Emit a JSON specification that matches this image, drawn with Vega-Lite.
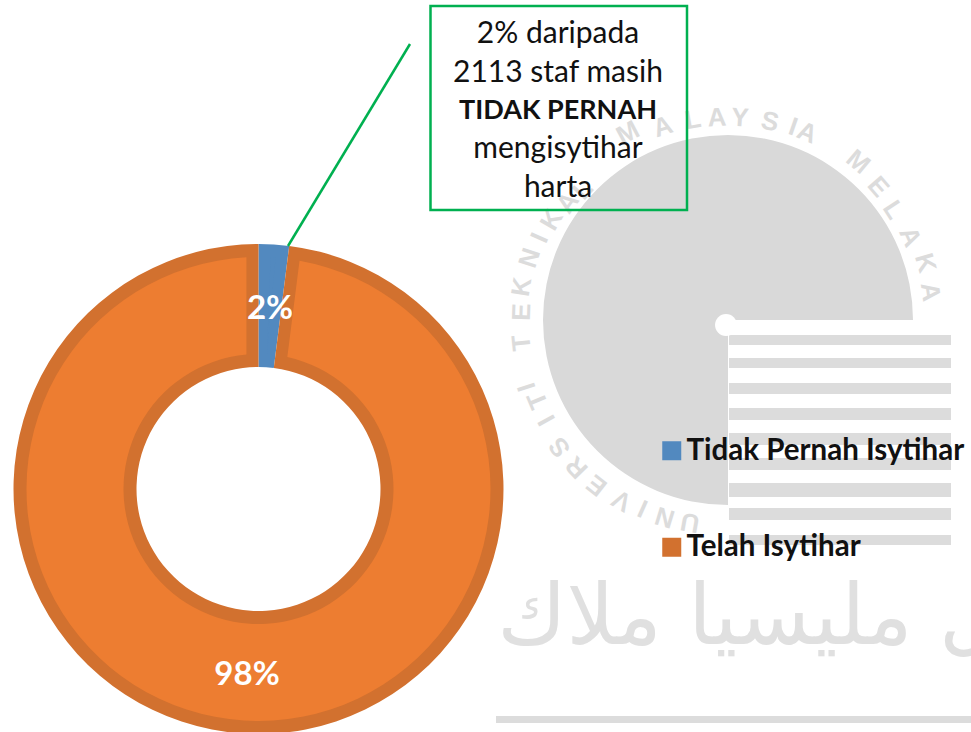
{"$schema":"https://vega.github.io/schema/vega-lite/v6.json","width":971,"height":732,"padding":0,"autosize":{"type":"none"},"background":"white","config":{"view":{"stroke":null},"font":"Lato"},"encoding":{"x":{"type":"quantitative","scale":{"domain":[0,971],"nice":false,"zero":false},"axis":null},"y":{"type":"quantitative","scale":{"domain":[732,0],"nice":false,"zero":false},"axis":null}},"layer":[
{"data":{"values":[{"y0":335,"y1":345},{"y0":358,"y1":368},{"y0":383,"y1":394},{"y0":408,"y1":420},{"y0":433,"y1":445},{"y0":458,"y1":470},{"y0":483,"y1":497},{"y0":508,"y1":520},{"y0":535,"y1":545}]},"mark":{"type":"rect","color":"#dcdcdc"},"encoding":{"x":{"datum":729},"x2":{"datum":951},"y":{"field":"y0","type":"quantitative"},"y2":{"field":"y1"}}},
{"data":{"values":[{"shape":"disc"}]},"mark":{"type":"arc","color":"#d9d9d9","radius":185,"radius2":0,"theta":3.14159,"theta2":7.85398},"encoding":{"x":{"datum":728},"y":{"datum":320}}},
{"data":{"values":[{"shape":"dot"}]},"mark":{"type":"point","filled":true,"color":"white","opacity":1,"size":480},"encoding":{"x":{"datum":726},"y":{"datum":325}}},
{"data":{"values":[{"c":"U","x":690,"y":522,"a":190},{"c":"N","x":665,"y":517,"a":197},{"c":"I","x":643,"y":508,"a":204},{"c":"V","x":622,"y":500,"a":210},{"c":"E","x":597,"y":485,"a":218},{"c":"R","x":577,"y":467,"a":226},{"c":"S","x":560,"y":447,"a":233},{"c":"I","x":547,"y":420,"a":241},{"c":"T","x":538,"y":400,"a":247},{"c":"I","x":527,"y":387,"a":252},{"c":"T","x":522,"y":343,"a":264},{"c":"E","x":522,"y":312,"a":272},{"c":"K","x":522,"y":287,"a":279},{"c":"N","x":530,"y":258,"a":288},{"c":"I","x":540,"y":238,"a":294},{"c":"K","x":552,"y":220,"a":300},{"c":"A","x":568,"y":203,"a":306},{"c":"L","x":583,"y":190,"a":312},{"c":"M","x":628,"y":133,"a":332},{"c":"A","x":663,"y":127,"a":342},{"c":"L","x":693,"y":120,"a":350},{"c":"A","x":717,"y":118,"a":357},{"c":"Y","x":740,"y":118,"a":4},{"c":"S","x":770,"y":122,"a":12},{"c":"I","x":793,"y":127,"a":19},{"c":"A","x":807,"y":133,"a":23},{"c":"M","x":858,"y":162,"a":40},{"c":"E","x":878,"y":187,"a":49},{"c":"L","x":893,"y":210,"a":57},{"c":"A","x":910,"y":237,"a":66},{"c":"K","x":925,"y":263,"a":74},{"c":"A","x":930,"y":292,"a":82}]},"mark":{"type":"text","font":"Liberation Sans","fontWeight":"bold","fontSize":26,"color":"#dcdcdc","align":"center","baseline":"middle"},"encoding":{"x":{"field":"x","type":"quantitative"},"y":{"field":"y","type":"quantitative"},"text":{"field":"c"},"angle":{"field":"a","type":"quantitative","scale":null}}},
{"data":{"values":[{"t":"كل مليسيا ملاك"}]},"mark":{"type":"text","font":"DejaVu Sans","fontSize":84,"color":"#e0e0e0","align":"center","baseline":"middle"},"encoding":{"x":{"datum":770},"y":{"datum":619},"text":{"field":"t"}}},
{"data":{"values":[{"shape":"bar"}]},"mark":{"type":"rect","color":"#dcdcdc"},"encoding":{"x":{"datum":496},"x2":{"datum":971},"y":{"datum":716},"y2":{"datum":723}}},
{"data":{"name":"donut","values":[{"kategori":"Tidak Pernah Isytihar","nilai":2,"urutan":1,"label":"2%"},{"kategori":"Telah Isytihar","nilai":98,"urutan":2,"label":"98%"}]},"layer":[
{"mark":{"type":"arc","radius":245,"radius2":122},"encoding":{"x":{"datum":258.5},"y":{"datum":489},"theta":{"field":"nilai","type":"quantitative","stack":true},"order":{"field":"urutan","type":"ordinal"},"color":{"field":"kategori","type":"nominal","scale":{"domain":["Tidak Pernah Isytihar","Telah Isytihar"],"range":["#5289bf","#d2712f"]},"legend":{"title":null,"orient":"none","legendX":657,"legendY":436,"symbolType":"square","symbolSize":361,"symbolStrokeWidth":0,"labelFont":"Lato","labelFontWeight":"bold","labelFontSize":29.5,"labelColor":"#111111","labelLimit":400,"labelOffset":0,"rowPadding":65.5}}}},
{"mark":{"type":"arc","radius":232,"radius2":135,"padAngle":0.09},"encoding":{"x":{"datum":258.5},"y":{"datum":489},"theta":{"field":"nilai","type":"quantitative","stack":true},"order":{"field":"urutan","type":"ordinal"},"fill":{"condition":{"test":"datum.kategori === 'Telah Isytihar'","value":"#ed7d31"},"value":"#5289bf"}}},
{"mark":{"type":"text","radius":183,"font":"Lato","fontWeight":"bold","fontSize":33,"color":"white","align":"center","baseline":"middle"},"encoding":{"x":{"datum":258.5},"y":{"datum":492},"theta":{"field":"nilai","type":"quantitative","stack":true},"order":{"field":"urutan","type":"ordinal"},"text":{"field":"label"}}}
]},
{"data":{"values":[{"x0":410,"y0":44,"x1":288,"y1":246}]},"mark":{"type":"rule","color":"#00b050","strokeWidth":2.5},"encoding":{"x":{"field":"x0","type":"quantitative"},"x2":{"field":"x1"},"y":{"field":"y0","type":"quantitative"},"y2":{"field":"y1"}}},
{"data":{"values":[{"shape":"box"}]},"mark":{"type":"rect","fillOpacity":0,"fill":"white","stroke":"#00b050","strokeWidth":2.5},"encoding":{"x":{"datum":430.5},"x2":{"datum":687},"y":{"datum":6},"y2":{"datum":210}}},
{"data":{"values":[{"t":"2% daripada","y":34},{"t":"2113 staf masih","y":73},{"t":"mengisytihar","y":149},{"t":"harta","y":188}]},"mark":{"type":"text","font":"Lato","fontSize":30,"color":"#111111","align":"center","baseline":"middle"},"encoding":{"x":{"datum":558},"y":{"field":"y","type":"quantitative"},"text":{"field":"t"}}},
{"data":{"values":[{"t":"TIDAK PERNAH","y":111}]},"mark":{"type":"text","font":"Lato","fontWeight":"bold","fontSize":27,"color":"#111111","align":"center","baseline":"middle"},"encoding":{"x":{"datum":558},"y":{"field":"y","type":"quantitative"},"text":{"field":"t"}}}
]}
